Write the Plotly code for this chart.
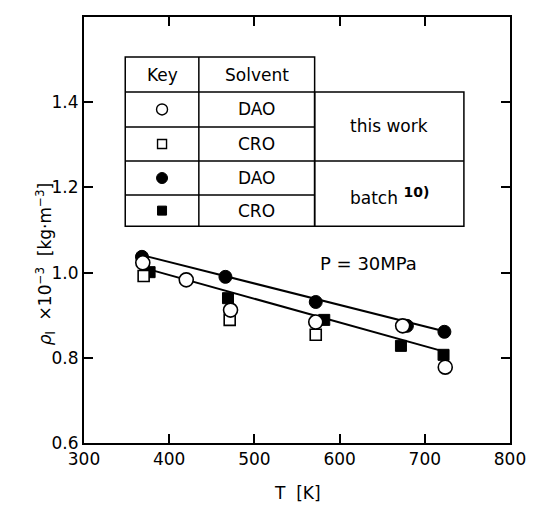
import plotly.graph_objects as go

# ---- data ----
T_dao_this = [369, 420, 472, 572, 674, 724]
rho_dao_this = [1.023, 0.983, 0.912, 0.884, 0.875, 0.778]

T_cro_this = [370, 471, 572]
rho_cro_this = [0.992, 0.889, 0.854]

T_dao_batch = [368, 466, 572, 679, 723]
rho_dao_batch = [1.037, 0.990, 0.931, 0.875, 0.861]

T_cro_batch = [377, 469, 582, 672, 722]
rho_cro_batch = [1.001, 0.940, 0.889, 0.828, 0.807]

T_line_upper = [368, 725]
rho_line_upper = [1.041, 0.861]
T_line_lower = [370, 724]
rho_line_lower = [1.011, 0.814]

x_ticks = [300, 400, 500, 600, 700, 800]
y_ticks = [0.6, 0.8, 1.0, 1.2, 1.4]

# table layout (data coords)
tab_x = [348.4, 434.8, 570.7, 745.9]
tab_y = [1.506, 1.424, 1.342, 1.262, 1.182, 1.109]
key_rows = ["DAO", "CRO", "DAO", "CRO"]

FONT = "DejaVu Sans, Liberation Sans, sans-serif"
LC = "black"

fig = go.Figure()

fig.add_trace(go.Scatter(x=T_line_upper, y=rho_line_upper, mode="lines",
                         line=dict(color=LC, width=2), showlegend=False))
fig.add_trace(go.Scatter(x=T_line_lower, y=rho_line_lower, mode="lines",
                         line=dict(color=LC, width=2), showlegend=False))

fig.add_trace(go.Scatter(x=T_dao_batch, y=rho_dao_batch, mode="markers",
                         marker=dict(symbol="circle", size=13, color="black",
                                     line=dict(color="black", width=1)), showlegend=False))
fig.add_trace(go.Scatter(x=T_cro_batch, y=rho_cro_batch, mode="markers",
                         marker=dict(symbol="square", size=11, color="black",
                                     line=dict(color="black", width=1)), showlegend=False))
fig.add_trace(go.Scatter(x=T_cro_this, y=rho_cro_this, mode="markers",
                         marker=dict(symbol="square", size=11, color="white",
                                     line=dict(color="black", width=1.6)), showlegend=False))
fig.add_trace(go.Scatter(x=T_dao_this, y=rho_dao_this, mode="markers",
                         marker=dict(symbol="circle", size=14, color="white",
                                     line=dict(color="black", width=1.6)), showlegend=False))

# ---- table ----
shapes = []
lw = 1.5
shapes.append(dict(type="rect", x0=tab_x[0], x1=tab_x[2], y0=tab_y[5], y1=tab_y[0],
                   xref="x", yref="y", line=dict(color=LC, width=lw), fillcolor="rgba(0,0,0,0)"))
shapes.append(dict(type="rect", x0=tab_x[2], x1=tab_x[3], y0=tab_y[5], y1=tab_y[1],
                   xref="x", yref="y", line=dict(color=LC, width=lw), fillcolor="rgba(0,0,0,0)"))
shapes.append(dict(type="line", x0=tab_x[1], x1=tab_x[1], y0=tab_y[5], y1=tab_y[0],
                   xref="x", yref="y", line=dict(color=LC, width=lw)))
for yy in tab_y[1:5]:
    shapes.append(dict(type="line", x0=tab_x[0], x1=tab_x[2], y0=yy, y1=yy,
                       xref="x", yref="y", line=dict(color=LC, width=lw)))
shapes.append(dict(type="line", x0=tab_x[2], x1=tab_x[3], y0=tab_y[3], y1=tab_y[3],
                   xref="x", yref="y", line=dict(color=LC, width=lw)))

row_c = [(tab_y[i] + tab_y[i + 1]) / 2 for i in range(1, 5)]
key_x = (tab_x[0] + tab_x[1]) / 2
sol_x = (tab_x[1] + tab_x[2]) / 2
src_x = (tab_x[2] + tab_x[3]) / 2

key_styles = [
    dict(symbol="circle", size=11, color="white", line=dict(color="black", width=1.4)),
    dict(symbol="square", size=9, color="white", line=dict(color="black", width=1.4)),
    dict(symbol="circle", size=11, color="black", line=dict(color="black", width=1)),
    dict(symbol="square", size=9, color="black", line=dict(color="black", width=1)),
]
for yc, st in zip(row_c, key_styles):
    fig.add_trace(go.Scatter(x=[key_x], y=[yc], mode="markers", marker=st,
                             showlegend=False, hoverinfo="skip"))

TS = 17
ann = []
hdr_y = (tab_y[0] + tab_y[1]) / 2
ann.append(dict(x=key_x, y=hdr_y, text="Key", showarrow=False, font=dict(size=TS)))
ann.append(dict(x=sol_x, y=hdr_y, text="Solvent", showarrow=False, font=dict(size=TS)))
for yc, s in zip(row_c, key_rows):
    ann.append(dict(x=sol_x, y=yc, text=s, showarrow=False, font=dict(size=TS)))
ann.append(dict(x=src_x, y=(tab_y[1] + tab_y[3]) / 2, text="this work", showarrow=False,
                font=dict(size=TS)))
ann.append(dict(x=src_x, y=(tab_y[3] + tab_y[5]) / 2 - 0.005,
                text="batch <sup><b><span style='font-size:14px'>10)</span></b></sup>",
                showarrow=False, font=dict(size=TS)))
ann.append(dict(x=634, y=1.021, text="P = 30MPa", showarrow=False, font=dict(size=18)))

# y-axis title
ann.append(dict(x=-0.125, y=0.42, xref="paper", yref="paper", textangle=-90,
                text="<i>ρ</i><sub>l</sub>  ×10<sup>−3</sup>  [kg·m<sup>−3</sup>]",
                showarrow=False, font=dict(size=17)))
# x-axis title
ann.append(dict(x=0.5, y=-0.118, xref="paper", yref="paper", yanchor="middle",
                text="T  [K]", showarrow=False, font=dict(size=17)))

fig.update_layout(
    width=538, height=507,
    margin=dict(l=84, r=20, t=17, b=64),
    paper_bgcolor="white", plot_bgcolor="white",
    font=dict(family=FONT, color="black", size=17),
    shapes=shapes, annotations=ann,
    showlegend=False,
)
fig.update_xaxes(range=[300, 800], tickvals=x_ticks, ticks="inside", ticklen=9,
                 tickwidth=1.5, tickcolor="black", showline=True, linecolor="black",
                 linewidth=2, mirror="ticks", showgrid=False, zeroline=False,
                 tickfont=dict(size=17))
fig.update_yaxes(range=[0.6, 1.6], tickvals=y_ticks, tickformat=".1f", ticks="inside",
                 ticklen=9, tickwidth=1.5, tickcolor="black", showline=True,
                 linecolor="black", linewidth=2, mirror="ticks", showgrid=False,
                 zeroline=False, tickfont=dict(size=17))

fig.write_html("out.html")
